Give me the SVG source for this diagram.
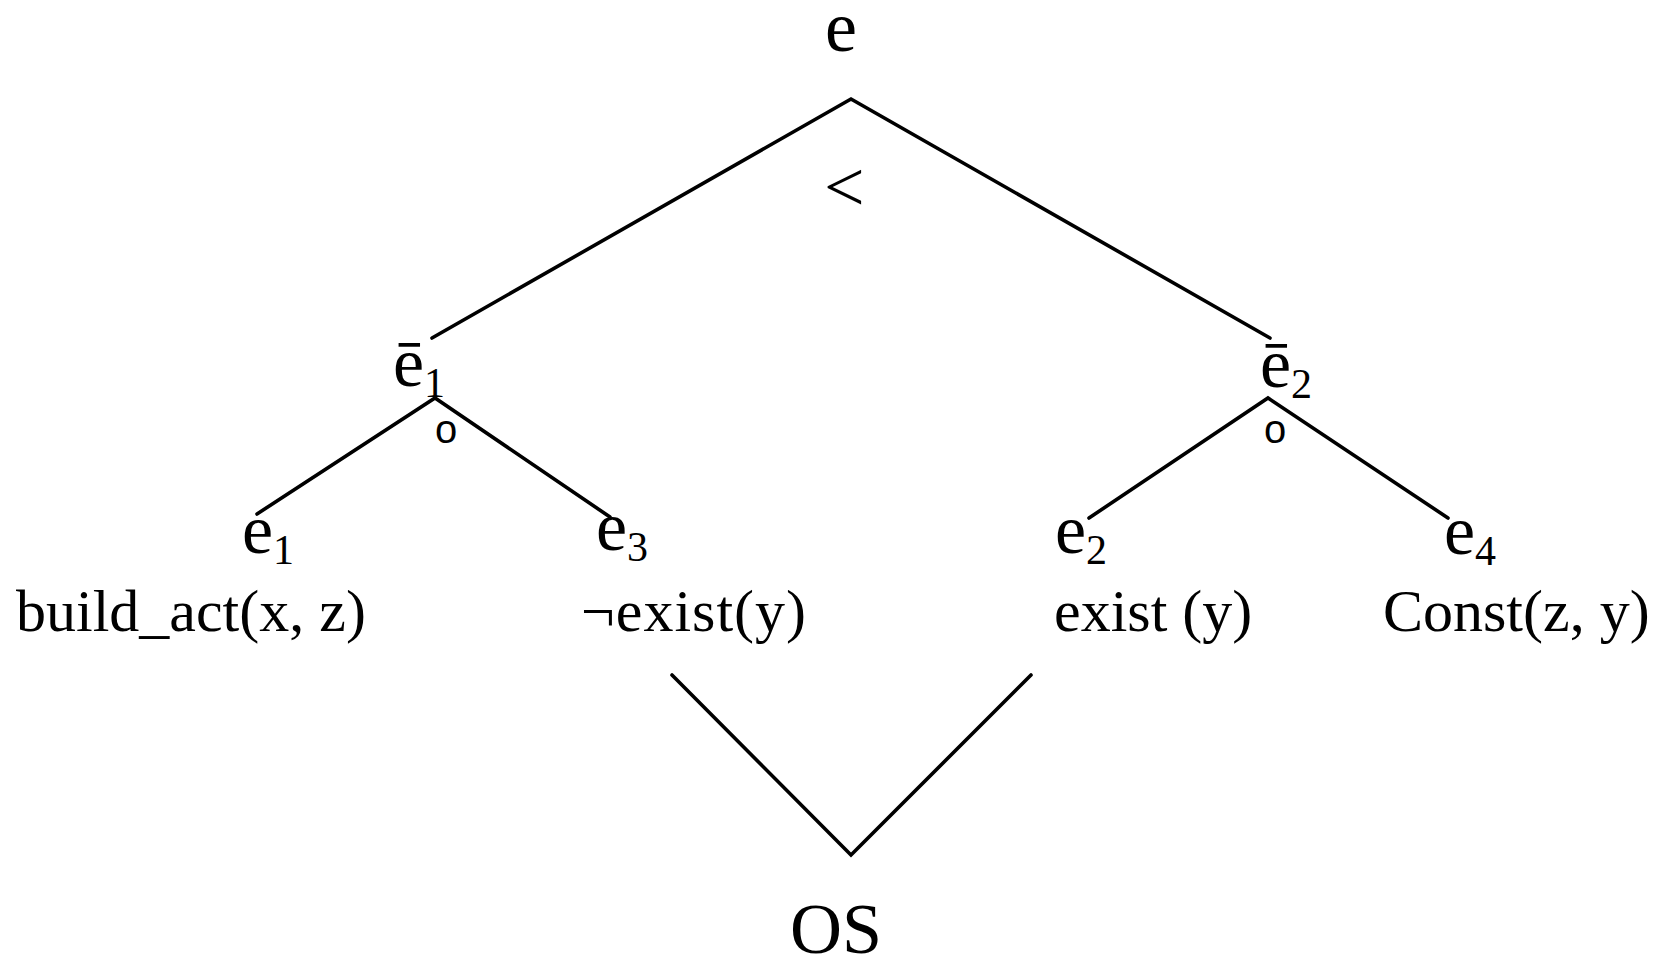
<svg xmlns="http://www.w3.org/2000/svg" width="1656" height="961" viewBox="0 0 1656 961">
<style>
.t{font-family:"Liberation Serif","Times New Roman",serif;fill:#000}
.lbl{font-size:70px}
.big{font-size:72px}
.txt{font-size:60px}
.sub{font-size:42px}
.op{font-family:"Liberation Sans",Arial,sans-serif;font-size:40px;fill:#000;text-anchor:middle}
.edge{stroke:#000;stroke-width:3.6;fill:none;stroke-linecap:round;stroke-linejoin:miter}
</style>
<rect width="1656" height="961" fill="#fff"/>
<g id="connectors">
<polyline class="edge" points="432,338 851,99 1270,338"/>
<polyline class="edge" points="257,514 435,398 610,517"/>
<polyline class="edge" points="1089,518 1268,398 1448,518"/>
<polyline class="edge" points="672,675 851,855 1031,675"/>
</g>
<g id="node-e"><text class="t big" x="825" y="51">e</text></g>
<g id="op-lt"><text class="t big" x="824" y="211">&lt;</text></g>
<g id="node-ebar1"><text class="t lbl" x="393" y="386">ē<tspan class="sub" dy="11">1</tspan></text></g>
<g id="op-ring1"><text class="op" x="446" y="443">o</text></g>
<g id="node-ebar2"><text class="t lbl" x="1260" y="387">ē<tspan class="sub" dy="11">2</tspan></text></g>
<g id="op-ring2"><text class="op" x="1275" y="443">o</text></g>
<g id="node-e1"><text class="t lbl" x="242" y="553">e<tspan class="sub" dy="11">1</tspan></text><text class="t txt" x="16" y="631">build_act(x, z)</text></g>
<g id="node-e3"><text class="t lbl" x="596" y="550">e<tspan class="sub" dy="11">3</tspan></text><text class="t txt" x="581" y="631" textLength="225" lengthAdjust="spacing">¬exist(y)</text></g>
<g id="node-e2"><text class="t lbl" x="1055" y="553">e<tspan class="sub" dy="11">2</tspan></text><text class="t txt" x="1054" y="631">exist (y)</text></g>
<g id="node-e4"><text class="t lbl" x="1444" y="554">e<tspan class="sub" dy="11">4</tspan></text><text class="t txt" x="1383" y="631">Const(z, y)</text></g>
<g id="node-os"><text class="t big" x="790" y="953">OS</text></g>
</svg>
